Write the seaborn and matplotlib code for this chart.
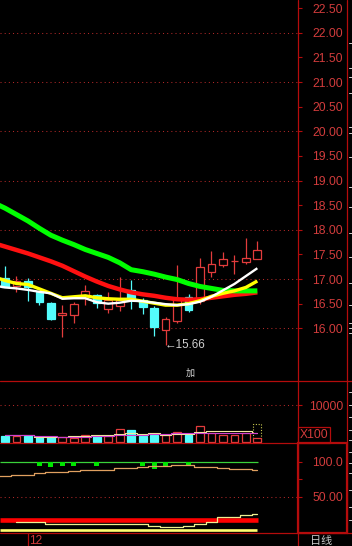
import matplotlib
matplotlib.use("Agg")
import matplotlib.pyplot as plt
from matplotlib.patches import Rectangle
import seaborn as sns

# ---------------- data ----------------
days = list(range(23))
ma_days = list(range(-1, 23))

opens  = [17.02, 16.85, 16.97, 16.74, 16.51, 16.26, 16.26, 16.65, 16.67, 16.39, 16.46, 16.78,
          16.58, 16.41, 15.97, 16.14, 16.64, 16.55, 17.15, 17.29, 17.36, 17.35, 17.40]
closes = [16.84, 16.96, 16.83, 16.54, 16.18, 16.31, 16.49, 16.76, 16.52, 16.58, 16.58, 16.58,
          16.44, 16.02, 16.18, 16.60, 16.37, 17.24, 17.30, 17.40, 17.37, 17.42, 17.58]
highs  = [17.27, 17.07, 17.02, 16.76, 16.54, 16.47, 16.53, 16.88, 16.69, 16.74, 17.04, 16.98,
          16.62, 16.45, 16.23, 17.28, 16.70, 17.42, 17.56, 17.54, 17.49, 17.83, 17.77]
lows   = [16.83, 16.74, 16.56, 16.47, 16.17, 15.82, 16.10, 16.47, 16.41, 16.32, 16.35, 16.39,
          16.29, 15.85, 15.66, 16.11, 16.33, 16.50, 17.05, 17.25, 17.10, 17.30, 17.40]

ma_white  = [16.87, 16.83, 16.81, 16.78, 16.74, 16.71, 16.60, 16.61, 16.61, 16.53, 16.50, 16.52,
             16.56, 16.55, 16.52, 16.49, 16.47, 16.49, 16.54, 16.64, 16.77, 16.90, 17.06, 17.22]
ma_yellow = [17.05, 16.97, 16.91, 16.89, 16.80, 16.71, 16.62, 16.64, 16.66, 16.62, 16.60, 16.59,
             16.59, 16.55, 16.51, 16.47, 16.47, 16.50, 16.56, 16.65, 16.71, 16.76, 16.83, 16.96]
ma_red    = [17.73, 17.66, 17.59, 17.52, 17.44, 17.36, 17.27, 17.16, 17.05, 16.95, 16.86, 16.79,
             16.73, 16.69, 16.66, 16.62, 16.59, 16.58, 16.59, 16.62, 16.65, 16.68, 16.70, 16.73]
ma_green  = [18.55, 18.44, 18.31, 18.18, 18.03, 17.89, 17.79, 17.70, 17.60, 17.52, 17.44, 17.33,
             17.19, 17.15, 17.10, 17.04, 16.99, 16.91, 16.85, 16.81, 16.77, 16.76, 16.76, 16.76]

volumes = [1620, 1620, 1810, 1430, 1430, 1430, 1270, 2080, 1700, 1620, 3700, 3430,
           1700, 2080, 1890, 2780, 2080, 4510, 2620, 2080, 2080, 2510, 1270]
projected_volume = 4860
vol_ma_a = [1890, 1890, 2030, 1700, 1620, 1490, 1430, 1490, 1620, 1760, 1890, 2030,
            2080, 2160, 2300, 2430, 2510, 2620, 2620, 2620, 2620, 2620, 2620]
vol_ma_b = [2080, 2080, 1890, 1430, 1430, 1430, 1620, 1760, 1890, 2080, 2350, 2570,
            2350, 2620, 2080, 2160, 2350, 2700, 2970, 2970, 2970, 2970, 2620]

ind_line = [79.6, 79.6, 81.0, 81.0, 83.4, 85.7, 85.7, 87.1, 88.1, 88.1, 88.1, 90.5, 90.5,
            92.4, 93.9, 93.9, 95.3, 95.3, 92.9, 92.9, 91.4, 90.0, 90.0, 88.6]   # days -1..22
ind_low_days = list(range(1, 23))
ind_low_line = [13.4, 13.4, 13.4, 10.6, 10.6, 10.6, 10.6, 10.6, 10.6, 10.6, 10.6, 10.6,
                7.8, 7.1, 7.1, 8.1, 10.6, 13.5, 20.6, 21.4, 23.9, 26.0]
ind_bar_days = [3, 4, 5, 6, 8, 12, 13, 14, 16]
ind_bar_low = [93.3, 91.9, 93.3, 93.3, 93.3, 93.3, 89.0, 91.9, 93.3]
ind_top_level = 100.0
ind_red_level = 17.4
ind_yellow_level = 2.9

price_ticks = [16.0, 16.5, 17.0, 17.5, 18.0, 18.5, 19.0, 19.5, 20.0, 20.5, 21.0, 21.5, 22.0, 22.5]
grid_prices = [16, 17, 18, 19, 20, 21, 22]
vol_ticks = [10000]
ind_ticks = [50, 100]
ind_tick_labels = ["50.00", "100.0"]
low_label = "\u219015.66"
date_label = "12"
period_label = "日线"
vol_unit = "X100"
mark_text = "加"

# ---------------- style ----------------
sns.set_theme(style="dark", rc={"axes.facecolor": "black", "figure.facecolor": "black",
                                "axes.grid": False})
plt.rcParams["font.family"] = ["Liberation Sans", "DejaVu Sans", "Noto Sans CJK SC"]

UP = "#e23c3c"
DOWN = "#54fcfc"
FRAME = "#b40c0c"
LABEL = "#d23c3c"
GRID = "#b02828"
W, H = 352, 546
SLOT, X0 = 11.47, 5.0
AX_R = 297.5

fig = plt.figure(figsize=(W / 100, H / 100), dpi=100, facecolor="black")


def px_axes(x0, y0, x1, y1):
    return fig.add_axes([x0 / W, 1 - y1 / H, (x1 - x0) / W, (y1 - y0) / H])


ax = px_axes(0, 0, AX_R, 381)
axv = px_axes(0, 381, AX_R, 442.5)
axi = px_axes(0, 442.5, AX_R, 533)
xlim = (-X0 / SLOT, (AX_R - X0) / SLOT)

for a in (ax, axv, axi):
    a.set_facecolor("black")
    for s in a.spines.values():
        s.set_visible(False)
    a.set_xticks([])

# ---- main price panel ----
up = [c >= o for o, c in zip(opens, closes)]
cols = [UP if u else DOWN for u in up]
ax.vlines(days, lows, highs, colors=cols, linewidth=0.9, zorder=2)
bottoms = [min(o, c) for o, c in zip(opens, closes)]
heights = [max(abs(c - o), 0.012) for o, c in zip(opens, closes)]
faces = ["black" if u else DOWN for u in up]
ax.bar(days, heights, bottom=bottoms, width=0.68, color=faces, edgecolor=cols,
       linewidth=0.9, zorder=3)

line_kw = dict(solid_joinstyle="round", solid_capstyle="butt")
sns.lineplot(x=ma_days, y=ma_red, ax=ax, color="#ff1010", linewidth=3.2, zorder=4, **line_kw)
sns.lineplot(x=ma_days, y=ma_green, ax=ax, color="#00ff00", linewidth=3.6, zorder=5, **line_kw)
sns.lineplot(x=ma_days, y=ma_yellow, ax=ax, color="#ffff00", linewidth=2.4, zorder=6, **line_kw)
sns.lineplot(x=ma_days, y=ma_white, ax=ax, color="#ffffff", linewidth=1.7, zorder=7, **line_kw)

for g in grid_prices:
    ax.axhline(g, color=GRID, linewidth=0.75, linestyle=(0, (1, 3)), zorder=1)

ax.text(days[14] - 0.05, min(lows), low_label, ha="left", va="center", color="#cfcfcf",
        fontsize=8.4, family=["Liberation Sans", "DejaVu Sans"], zorder=8)

ax.set_xlim(*xlim)
ax.set_ylim(22 - (381 - 32.8) / 49.25, 22 + 32.8 / 49.25)
ax.yaxis.tick_right()
ax.set_yticks(price_ticks)
ax.set_yticklabels([f"{v:.2f}" for v in price_ticks])

# ---- volume panel ----
axv.bar(days[-1], projected_volume, width=0.68, color="none", edgecolor="#c8c850",
        linewidth=0.8, linestyle=(0, (1, 1.5)), zorder=2)
axv.bar(days, volumes, width=0.68, color=faces, edgecolor=cols, linewidth=0.9, zorder=3)
sns.lineplot(x=days, y=vol_ma_b, ax=axv, color="#f2eaa0", linewidth=0.8,
             drawstyle="steps-mid", zorder=4)
sns.lineplot(x=days, y=vol_ma_a, ax=axv, color="#d040d0", linewidth=0.8,
             drawstyle="steps-mid", zorder=5)
for v in vol_ticks:
    axv.axhline(v, color=GRID, linewidth=0.75, linestyle=(0, (1, 3)), zorder=1)
axv.set_xlim(*xlim)
axv.set_ylim(-(442.5 - 442.3) / 37 * 10000, (442.3 - 381) / 37 * 10000)
axv.yaxis.tick_right()
axv.set_yticks(vol_ticks)
axv.set_yticklabels([str(v) for v in vol_ticks])

# ---- indicator panel ----
x_end = 22.1
axi.hlines(ind_top_level, xlim[0], x_end, color="#3ad23a", linewidth=0.9, zorder=2)
axi.bar(ind_bar_days, [ind_top_level - b for b in ind_bar_low], bottom=ind_bar_low,
        width=0.42, color="#00e600", linewidth=0, zorder=3)
sns.lineplot(x=ma_days, y=ind_line, ax=axi, color="#e0a060", linewidth=0.9,
             drawstyle="steps-mid", zorder=3)
axi.hlines(ind_red_level, xlim[0], x_end, color="#ff0000", linewidth=3.3, zorder=3)
axi.hlines(ind_yellow_level, xlim[0], 21.95, color="#ffff70", linewidth=1.9, zorder=3)
sns.lineplot(x=ind_low_days, y=ind_low_line, ax=axi, color="#eeee90", linewidth=0.9,
             drawstyle="steps-mid", zorder=4)
axi.axhline(50, color=GRID, linewidth=0.75, linestyle=(0, (1, 3)), zorder=1)
axi.set_xlim(*xlim)
axi.set_ylim(-(533 - 531.7) / 0.7, (531.7 - 442.5) / 0.7)
axi.yaxis.tick_right()
axi.set_yticks(ind_ticks)
axi.set_yticklabels(ind_tick_labels)
axi.set_yticks([75], minor=True)

for a in (ax, axv, axi):
    a.set_xlabel("")
    a.set_ylabel("")
    a.tick_params(axis="y", which="both", direction="out", length=3, width=0.8,
                  color=FRAME, labelcolor=LABEL, labelsize=8.7, pad=29.8, right=True, left=False)
    for lab in a.get_yticklabels():
        lab.set_horizontalalignment("right")

# ---- frame overlay ----
ov = fig.add_axes([0, 0, 1, 1], zorder=20)
ov.set_xlim(0, W)
ov.set_ylim(H, 0)
ov.axis("off")
ov.patch.set_alpha(0)
ov.plot([AX_R, AX_R], [0, H], color=FRAME, linewidth=0.9)
ov.plot([346.5, 346.5], [0, 533], color=FRAME, linewidth=0.9)
ov.plot([0, W], [381, 381], color=FRAME, linewidth=0.9)
ov.plot([0, AX_R], [442.5, 442.5], color=FRAME, linewidth=0.9)
ov.plot([0, W], [533, 533], color=FRAME, linewidth=0.9)
ov.add_patch(Rectangle((AX_R, 443), 346.5 - AX_R, 89.5, fill=False, edgecolor=FRAME, linewidth=1.6))
ov.add_patch(Rectangle((AX_R, 427), 330 - AX_R, 15.5, fill=False, edgecolor=FRAME, linewidth=0.9))
ov.text(314, 435, vol_unit, ha="center", va="center", color=LABEL, fontsize=8.7)
ov.plot([27.5, 27.5], [533, H], color=FRAME, linewidth=0.9)
ov.text(29, 544.3, date_label, ha="left", va="baseline", color=LABEL, fontsize=8.6)
ov.text(310, 544.3, period_label, ha="left", va="baseline", color="#c8c8c8", fontsize=8,
        family=["Noto Sans CJK SC"])
ov.text(190.5, 373, mark_text, ha="center", va="center", color="#d8d8d8", fontsize=6.5,
        family=["Noto Sans CJK SC"])
for yy in [43, 68, 77, 93, 127, 133, 157, 187, 207, 233, 257, 283, 305, 323, 328, 333,
           392, 405, 417, 430, 440, 452, 463, 473, 490, 507, 520]:
    ov.plot([348.5, 352], [yy, yy], color="#d0d0d0", linewidth=0.7)

fig.savefig("out.png", dpi=100, facecolor="black")
